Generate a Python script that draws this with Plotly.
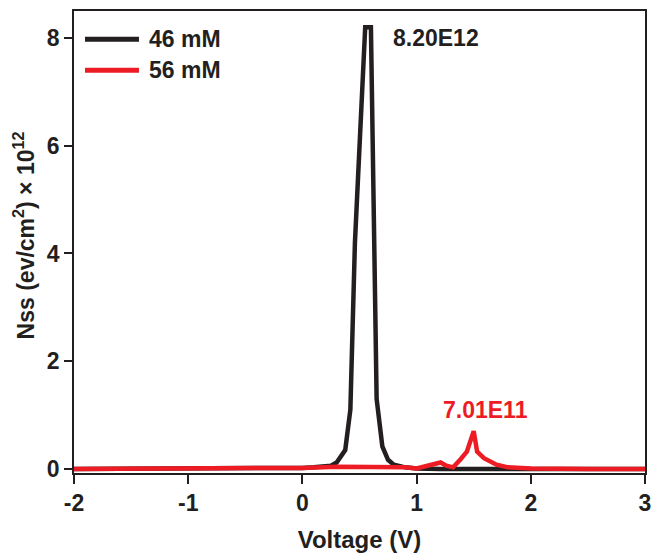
import plotly.graph_objects as go

# ---- data ----
v46 = [-2.0, -1.5, -1.0, -0.5, 0.0, 0.1, 0.2, 0.25, 0.3, 0.375, 0.42, 0.46, 0.55, 0.6, 0.65, 0.7, 0.75, 0.8, 0.9, 1.0, 1.2, 1.5, 2.0, 2.5, 3.0]
n46 = [0.0, 0.0, 0.0, 0.01, 0.02, 0.03, 0.04, 0.06, 0.12, 0.35, 1.1, 4.2, 8.2, 8.2, 1.3, 0.42, 0.17, 0.08, 0.03, 0.01, 0.0, 0.0, 0.0, 0.0, 0.0]

v56 = [-2.0, -1.0, -0.5, 0.0, 0.3, 0.6, 0.9, 1.0, 1.06, 1.15, 1.21, 1.26, 1.32, 1.385, 1.44, 1.5, 1.53, 1.59, 1.65, 1.7, 1.8, 2.0, 2.5, 3.0]
n56 = [0.0, 0.0, 0.01, 0.02, 0.04, 0.04, 0.03, 0.01, 0.04, 0.07, 0.12, 0.06, 0.03, 0.18, 0.32, 0.70, 0.32, 0.2, 0.14, 0.08, 0.03, 0.01, 0.0, 0.0]

names = ["46 mM", "56 mM"]
colors = ["#231f20", "#ed1c24"]
peak_labels = ["8.20E12", "7.01E11"]
x_ticks = [-2, -1, 0, 1, 2, 3]
y_ticks = [0, 2, 4, 6, 8]
x_title = "Voltage (V)"
y_title = "Nss (ev/cm<sup>2</sup>) × 10<sup>12</sup>"

FONT = "Arial, 'Liberation Sans', sans-serif"
AX = "#231f20"
FS = 23

fig = go.Figure()
for vx, vy, nm, c in [(v46, n46, names[0], colors[0]), (v56, n56, names[1], colors[1])]:
    fig.add_trace(go.Scatter(x=vx, y=vy, mode="lines", name=nm,
                             line=dict(color=c, width=4.5), showlegend=False))

# manual legend
leg_y = [0.939, 0.872]
for i in range(2):
    fig.add_shape(type="line", xref="paper", yref="paper",
                  x0=0.0193, x1=0.1138, y0=leg_y[i], y1=leg_y[i],
                  line=dict(color=colors[i], width=5))
    fig.add_annotation(xref="paper", yref="paper", x=0.127, y=leg_y[i],
                       text="<b>%s</b>" % names[i], showarrow=False,
                       xanchor="left", yanchor="middle",
                       font=dict(family=FONT, size=FS, color=AX))

# peak labels
fig.add_annotation(x=1.17, y=8.0, text="<b>%s</b>" % peak_labels[0], showarrow=False,
                   xanchor="center", yanchor="middle",
                   font=dict(family=FONT, size=FS, color=AX))
fig.add_annotation(x=1.604, y=1.095, text="<b>%s</b>" % peak_labels[1], showarrow=False,
                   xanchor="center", yanchor="middle",
                   font=dict(family=FONT, size=FS, color=colors[1]))

# y axis title
fig.add_annotation(xref="paper", yref="paper", x=-0.087, y=0.515,
                   text="<b>%s</b>" % y_title, textangle=-90, showarrow=False,
                   xanchor="center", yanchor="middle",
                   font=dict(family=FONT, size=23, color=AX))

fig.update_layout(
    width=653, height=554,
    margin=dict(l=74, r=8, t=11, b=81),
    paper_bgcolor="white", plot_bgcolor="white",
    font=dict(family=FONT, color=AX),
    xaxis=dict(range=[-2, 3], tickvals=x_ticks, ticktext=["<b>%d</b>" % t for t in x_ticks],
               ticks="outside", ticklen=9, tickwidth=1.5, tickcolor=AX,
               showline=True, linecolor=AX, linewidth=1.5, mirror=True,
               showgrid=False, zeroline=False, automargin=False,
               tickfont=dict(family=FONT, size=FS, color=AX),
               title=dict(text="<b>%s</b>" % x_title, font=dict(family=FONT, size=24, color=AX), standoff=16)),
    yaxis=dict(range=[-0.075, 8.5], tickvals=y_ticks, ticktext=["<b>%d</b>" % t for t in y_ticks],
               ticks="outside", ticklen=8, tickwidth=1.5, tickcolor=AX,
               showline=True, linecolor=AX, linewidth=1.5, mirror=True,
               showgrid=False, zeroline=False, ticklabelstandoff=0, automargin=False,
               tickfont=dict(family=FONT, size=FS, color=AX)),
)

fig.write_html("out.html")
